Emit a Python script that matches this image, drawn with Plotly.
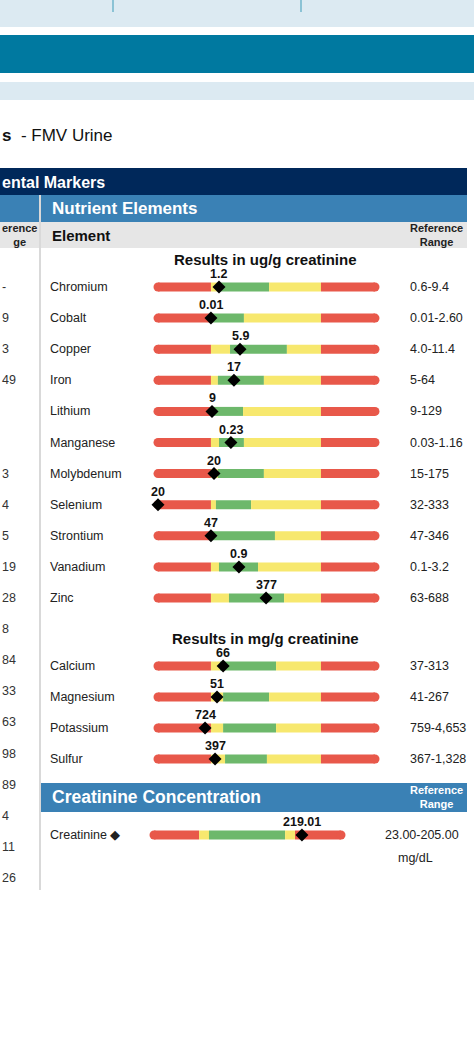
import plotly.graph_objects as go

# ---- data ----
elements = ["Chromium","Cobalt","Copper","Iron","Lithium","Manganese","Molybdenum",
            "Selenium","Strontium","Vanadium","Zinc"]
values = ["1.2","0.01","5.9","17","9","0.23","20","20","47","0.9","377"]
ref_ranges = ["0.6-9.4","0.01-2.60","4.0-11.4","5-64","9-129","0.03-1.16","15-175",
              "32-333","47-346","0.1-3.2","63-688"]
# scale 0-100 along each bar
green_start = [27.6,24.4,33.2,27.6,25.3,28.1,27.6,26.7,24.4,28.1,32.7]
green_end = [51.2,39.6,59.4,48.8,39.2,39.6,48.8,42.9,53.9,46.1,58.1]
marker_pos = [28.1,24.4,37.8,35.0,24.9,33.6,25.8,0.0,24.4,37.3,49.8]

elements2 = ["Calcium","Magnesium","Potassium","Sulfur"]
values2 = ["66","51","724","397"]
ref_ranges2 = ["37-313","41-267","759-4,653","367-1,328"]
green_start2 = [28.6,30.0,30.0,30.9]
green_end2 = [54.4,51.2,54.4,50.2]
marker_pos2 = [30.0,27.2,21.7,26.3]

red_low_end = 24.4
yellow_high_end = 75.1

creat_value = "219.01"
creat_segments = [24.1, 29.4, 70.1, 75.4]  # red|yellow|green|yellow|red boundaries
creat_marker = 79.1

left_fragments = ["-","9","3","49","","","3","4","5","19","28","8","84","33","63","98","89","4","11","26"]

RED, YEL, GRN = "#e8584a", "#f7e86e", "#6db86b"

fig = go.Figure()
shapes, ann = [], []

def rect(x0, y0, x1, y1, color):
    shapes.append(dict(type="rect", xref="x", yref="y", x0=x0, x1=x1, y0=y0, y1=y1,
                       fillcolor=color, line=dict(width=0), layer="below"))

def text(x, y, s, size=12, color="#222", bold=False, xanchor="left", font="Liberation Sans"):
    if bold:
        s = "<b>" + s + "</b>"
    ann.append(dict(x=x, y=y, xref="x", yref="y", text=s, showarrow=False, xanchor=xanchor,
                    yanchor="middle", font=dict(size=size, color=color, family=font)))

# page chrome
rect(0, 0, 474, 27, "#dceaf2")
shapes.append(dict(type="line", x0=113, x1=113, y0=0, y1=12, line=dict(color="#3a9bb8", width=1)))
shapes.append(dict(type="line", x0=301, x1=301, y0=0, y1=12, line=dict(color="#3a9bb8", width=1)))
rect(0, 35, 474, 73, "#0079a0")
rect(0, 82, 474, 100, "#dceaf2")
text(0, 135, "<b>s</b>  - FMV Urine", size=17, color="#111")
rect(0, 168, 467, 195, "#00285a")
text(0, 182, "ental Markers", size=16, color="white", bold=True)
rect(0, 195, 39, 222, "#3a81b5")
rect(41, 195, 467, 222, "#3a81b5")
text(50, 208, "Nutrient Elements", size=17, color="white", bold=True)
rect(0, 222, 39, 248, "#e6e6e6")
rect(41, 222, 467, 248, "#e6e6e6")
text(0, 235, "erence<br>ge", size=11, color="#222", bold=True)
text(50, 235, "Element", size=15, color="#111", bold=True)
text(408, 235, "Reference<br>Range", size=11, color="#222", bold=True)
shapes.append(dict(type="line", x0=40, x1=40, y0=195, y1=890, line=dict(color="#cccccc", width=1.5)))
text(265, 259, "Results in ug/g creatinine", size=15, color="#111", bold=True, xanchor="center")
text(265, 638, "Results in mg/g creatinine", size=15, color="#111", bold=True, xanchor="center")

for i, s in enumerate(left_fragments):
    if s:
        text(0, 287 + 31.1 * i, s, size=12.5, color="#333")

BX0, BX1, BH = 158, 375, 9

def bar_row(y, gs, ge, m, val, bx0=BX0, bx1=BX1, bounds=None):
    sc = (bx1 - bx0) / 100.0
    if bounds is None:
        bounds = [red_low_end, gs, ge, yellow_high_end]
    b = bounds
    segs = [(0, b[0], RED), (b[0], b[1], YEL), (b[1], b[2], GRN), (b[2], b[3], YEL), (b[3], 100, RED)]
    for a, e, c in segs:
        if e > a:
            fig.add_trace(go.Bar(x=[(e - a) * sc], base=[bx0 + a * sc], y=[y], orientation="h",
                                 width=BH, marker=dict(color=c, line=dict(width=0)),
                                 showlegend=False, hoverinfo="skip"))
    fig.add_trace(go.Scatter(x=[bx0, bx1], y=[y, y], mode="markers",
                             marker=dict(symbol="circle", size=BH, color=RED, line=dict(width=0)),
                             showlegend=False, hoverinfo="skip"))
    fig.add_trace(go.Scatter(x=[bx0 + m * sc], y=[y], mode="markers",
                             marker=dict(symbol="diamond", size=10, color="black"),
                             showlegend=False, hoverinfo="skip"))
    text(bx0 + m * sc, y - 13, val, size=12.5, color="#111", bold=True, xanchor="center")

for i, n in enumerate(elements):
    y = 287 + 31.1 * i
    text(48, y, n, size=12.5, color="#222")
    text(408, y, ref_ranges[i], size=12.5, color="#222")
    bar_row(y, green_start[i], green_end[i], marker_pos[i], values[i])

for i, n in enumerate(elements2):
    y = 666 + 31 * i
    text(48, y, n, size=12.5, color="#222")
    text(408, y, ref_ranges2[i], size=12.5, color="#222")
    bar_row(y, green_start2[i], green_end2[i], marker_pos2[i], values2[i])

rect(41, 783, 467, 812, "#3a81b5")
text(50, 797, "Creatinine Concentration", size=17.5, color="white", bold=True)
text(408, 797, "Reference<br>Range", size=11, color="white", bold=True)
text(48, 835, "Creatinine ◆", size=12.5, color="#222")
text(383, 835, "23.00-205.00", size=12.5, color="#222")
text(396, 858, "mg/dL", size=12.5, color="#222")
bar_row(835, 0, 0, creat_marker, creat_value, bx0=154, bx1=341, bounds=creat_segments)

fig.update_layout(width=474, height=1058, margin=dict(l=0, r=0, t=0, b=0),
                  paper_bgcolor="white", plot_bgcolor="white", barmode="overlay",
                  shapes=shapes, annotations=ann,
                  xaxis=dict(range=[0, 474], visible=False, fixedrange=True),
                  yaxis=dict(range=[1058, 0], visible=False, fixedrange=True))
fig.write_html("out.html", config={"displayModeBar": False},
               post_script="document.body.style.margin='0';document.body.style.overflow='hidden';")
